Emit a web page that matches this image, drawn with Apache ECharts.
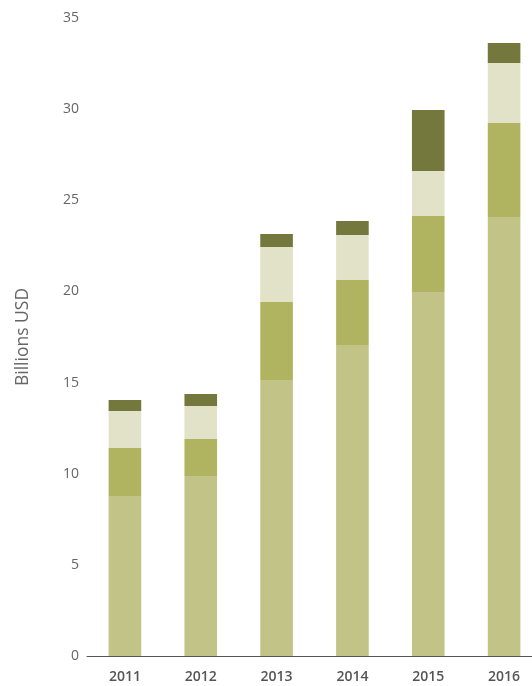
<!DOCTYPE html>
<html><head><meta charset="utf-8">
<script src="https://cdn.jsdelivr.net/npm/echarts@6/dist/echarts.min.js"></script>
<style>html,body{margin:0;padding:0;background:#fff;overflow:hidden;width:532px;height:686px}#c{width:542px;height:686px}</style>
</head><body><div id="c"></div>
<script>
const years = ['2011','2012','2013','2014','2015','2016'];
const seriesBase  = [8.78, 9.87, 15.14, 17.06, 19.97, 24.08];
const seriesMid   = [2.63, 2.03, 4.28, 3.57, 4.17, 5.16];
const seriesCream = [2.03, 1.81, 3.02, 2.47, 2.46, 3.29];
const seriesDark  = [0.60, 0.66, 0.71, 0.76, 3.35, 1.10];
const colors = ['#c2c386', '#b0b460', '#e2e2c8', '#74783c'];
const yTicks = [0, 5, 10, 15, 20, 25, 30, 35];

const chart = echarts.init(document.getElementById('c'));
const mk = (name, data, i) => ({
  name, type: 'bar', stack: 'total', data, barWidth: '43%',
  itemStyle: { color: colors[i] }, emphasis: { disabled: true }
});
chart.setOption({
  animation: false,
  grid: { left: 87, right: 0, top: 18, bottom: 30, containLabel: false },
  xAxis: {
    type: 'category', data: years,
    axisLine: { lineStyle: { color: '#555', width: 1 } },
    axisTick: { show: false },
    axisLabel: { color: '#555', fontFamily: 'Open Sans', fontSize: 14, fontWeight: 600, margin: 14 }
  },
  yAxis: {
    type: 'value', min: yTicks[0], max: yTicks[yTicks.length - 1], interval: 5,
    name: 'Billions USD', nameLocation: 'middle', nameGap: 55,
    nameTextStyle: { color: '#666', fontFamily: 'Open Sans', fontSize: 17.5 },
    axisLine: { show: false }, axisTick: { show: false }, splitLine: { show: false },
    axisLabel: { color: '#666', fontFamily: 'Open Sans', fontSize: 14, margin: 8 }
  },
  series: [
    mk('A', seriesBase, 0),
    mk('B', seriesMid, 1),
    mk('C', seriesCream, 2),
    mk('D', seriesDark, 3)
  ]
});
</script></body></html>
